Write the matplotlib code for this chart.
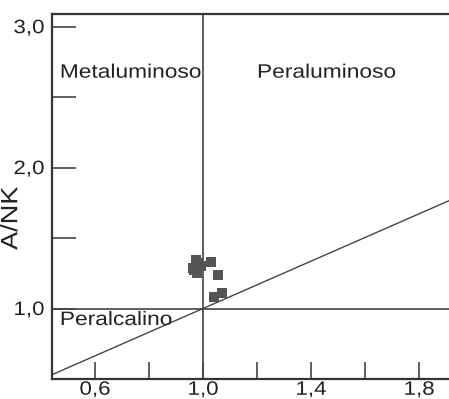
import numpy as np
import matplotlib.pyplot as plt
import matplotlib.patheffects as pe
from matplotlib.transforms import Affine2D

# A/CNK vs A/NK sample values
acnk = [0.975, 0.985, 0.962, 0.978, 0.992, 0.968, 1.030, 1.056, 1.070, 1.040]
anks = [1.345, 1.325, 1.290, 1.250, 1.300, 1.270, 1.333, 1.240, 1.110, 1.080]

xticks = [0.6, 0.8, 1.0, 1.2, 1.4, 1.6, 1.8]
xlabels = ['0,6', '', '1,0', '', '1,4', '', '1,8']
yticks = [1.0, 1.5, 2.0, 2.5, 3.0]
ylabels = ['1,0', '', '2,0', '', '3,0']

plt.rcParams['font.family'] = ['Liberation Sans', 'DejaVu Sans']


class Stretch(pe.AbstractPathEffect):
    """widen text glyphs along the text direction, keeping the anchor fixed"""
    def __init__(self, sx, anchor=0.0):
        super().__init__()
        self.sx = sx
        self.anchor = anchor

    def draw_path(self, renderer, gc, tpath, affine, rgbFace=None):
        v = tpath.vertices
        if len(v) == 0:
            return
        x0, x1 = v[:, 0].min(), v[:, 0].max()
        cx = x0 + self.anchor*(x1 - x0)
        t = Affine2D().translate(-cx, 0).scale(self.sx, 1).translate(cx, 0)
        renderer.draw_path(gc, tpath, t + affine, rgbFace)


fig = plt.figure(figsize=(4.49, 3.99), dpi=100)
ax = fig.add_axes([52/449, 20/399, 397/449, 365/399])

xmin, xmax = 0.441, 1.911
ymin, ymax = 0.50, 3.09
ax.set_xlim(xmin, xmax)
ax.set_ylim(ymin, ymax)

lc = '#444444'
# field boundaries
ax.axvline(1.0, color=lc, lw=1.2)
ax.axhline(1.0, color=lc, lw=1.2)
xl = np.array([xmin, xmax])
ax.plot(xl, 1 + 0.84*(xl - 1.0), color=lc, lw=1.0)

ax.scatter(acnk, anks, marker='s', s=60, color='#555555', zorder=3, linewidths=0)

fsz = 14
for x, y, s in [(0.47, 2.67, 'Metaluminoso'),
                (1.20, 2.67, 'Peraluminoso'),
                (0.47, 0.915, 'Peralcalino')]:
    t = ax.text(x, y, s, fontsize=fsz, va='center', ha='left', color='#222222')
    t.set_path_effects([Stretch(1.17, 0.0)])

ax.set_xticks(xticks)
ax.set_xticklabels(xlabels)
ax.set_yticks(yticks)
ax.set_yticklabels(ylabels)
ax.tick_params(axis='x', direction='in', length=12, width=1.2, color=lc,
               labelsize=fsz, pad=2, labelcolor='#222222')
ax.tick_params(axis='y', direction='in', length=17, width=1.2, color=lc,
               labelsize=fsz, pad=5.5, labelcolor='#222222')
for lbl in ax.get_xticklabels():
    lbl.set_path_effects([Stretch(1.15, 0.5)])
for lbl in ax.get_yticklabels():
    lbl.set_path_effects([Stretch(1.15, 1.0)])

yl = ax.set_ylabel('A/NK', fontsize=17, color='#222222')
yl.set_path_effects([Stretch(1.15, 0.5)])
ax.yaxis.set_label_coords(-0.075, 0.44)

for s in ['left', 'top', 'bottom']:
    ax.spines[s].set_linewidth(1.6)
    ax.spines[s].set_color('#333333')
ax.spines['right'].set_visible(False)

fig.savefig('out.png', dpi=100)
